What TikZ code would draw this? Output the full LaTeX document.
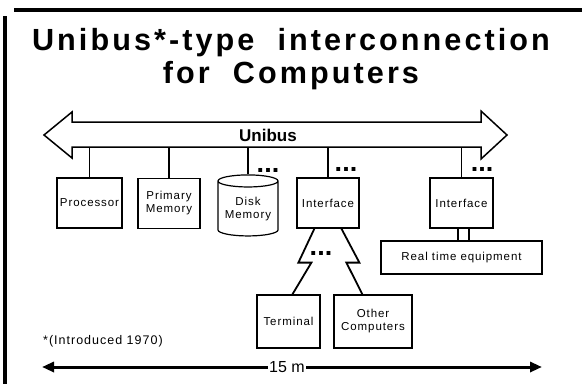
\documentclass[tikz,border=0pt]{standalone}
\usepackage{fontspec}
\setmainfont{Liberation Sans}
\usetikzlibrary{arrows.meta,shapes.geometric}

\tikzset{
  title/.style={anchor=base, inner sep=0, font=\fontsize{30.6}{33}\selectfont\bfseries\addfontfeatures{LetterSpace=10}},
  unit/.style={draw, line width=1.2, minimum width=62, minimum height=50, inner sep=1, align=center,
    font=\fontsize{11.5}{13}\selectfont\addfontfeatures{LetterSpace=8}},
  stub/.style={line width=1.8},
  dots/.style={inner sep=0, font=\fontsize{27}{27}\selectfont\bfseries},
}

\begin{document}
\begin{tikzpicture}[x=1pt,y=-1pt]
\useasboundingbox (0,0) rectangle (582,384);
% frame
\draw[line width=4] (14,10) -- (582,10);
\draw[line width=4] (5,16) -- (5,384);
% title
\node[title] (title1) at (291,50) {Unibus*-type\ \ interconnection};
\node[title] (title2) at (291,83) {for\ \ Computers};
% the bus
\draw[line width=1.5] (72,122) -- (481,122) -- (481,111) -- (507,135) -- (481,159) -- (481,147)
  -- (72,147) -- (72,158) -- (44,135) -- (72,112) -- cycle;
\coordinate (busbot) at (0,147);
\node[font=\fontsize{17}{17}\selectfont\bfseries] (unibus) at (268,135) {Unibus};
% units on the bus
\node[unit, minimum width=65] (proc) at (89.5,203) {Processor};
\node[unit] (prim) at (169,203.5) {Primary\\Memory};
\node[unit, cylinder, shape border rotate=90, aspect=0.25, minimum width=60, minimum height=61] (disk) at (248,209.5) {Disk\\Memory};
\node[unit] (iface1) at (328,203) {Interface};
\node[unit, minimum width=63] (iface2) at (461.5,203) {Interface};
\node[unit, minimum width=161, minimum height=33] (rte) at (461.5,257.5) {Real time equipment};
\node[unit, minimum width=63, minimum height=53] (term) at (288.5,321.5) {Terminal};
\node[unit, minimum width=78, minimum height=53] (other) at (373,321.5) {Other\\Computers};
\foreach \n in {proc,prim,disk,iface1,iface2}
  \draw[stub] (\n.north) -- (\n.north |- busbot);
\node[dots] (dots1) at (268,170) {...};
\node[dots] (dots2) at (346,169) {...};
\node[dots] (dots3) at (482,169) {...};
\node[dots] (dots4) at (321,253) {...};
% links below the interfaces
\draw[line width=1.2] ([xshift=-3.5]iface2.south) -- ([xshift=-3.5]iface2.south |- rte.north);
\draw[line width=1.2] ([xshift=7.5]iface2.south) -- ([xshift=7.5]iface2.south |- rte.north);
\draw[stub] ([xshift=18]iface1.south west) -- ++(-16,34) -- ++(13,0) -- ([xshift=36]term.north west);
\draw[stub] ([xshift=45]iface1.south west) -- ++(18,34) -- ++(-13,0) -- ([xshift=29]other.north west);
% length
\node[anchor=west, inner sep=0, font=\fontsize{12.5}{13}\selectfont\addfontfeatures{LetterSpace=8}] (note) at (43,341) {*(Introduced 1970)};
\coordinate (dimL) at (42,367);
\coordinate (dimR) at (542,367);
\draw[line width=3, {Triangle[length=12pt,width=10pt]}-{Triangle[length=12pt,width=10pt]}] (dimL) --
  node[pos=0.49, fill=white, inner sep=1.5, font=\fontsize{16}{16}\selectfont] (len) {15 m} (dimR);
\end{tikzpicture}
\end{document}
